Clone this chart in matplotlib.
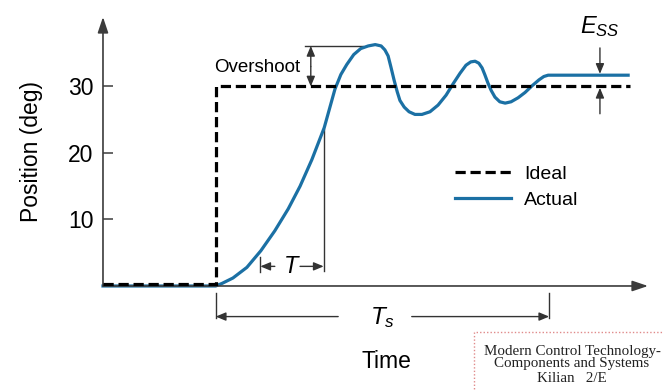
import matplotlib
matplotlib.use("Agg")
import matplotlib.pyplot as plt
from matplotlib.patches import Rectangle

plt.rcParams['font.family'] = ['Liberation Sans', 'DejaVu Sans']
plt.rcParams['mathtext.fontset'] = 'custom'
plt.rcParams['mathtext.it'] = 'Liberation Sans:italic'
plt.rcParams['mathtext.rm'] = 'Liberation Sans'

# ideal step response (time in arbitrary units, position in deg)
ideal_t = [0, 21.0, 21.0, 98.1]
ideal_pos = [0.3, 0.3, 30, 30]

# actual response
actual_t = [0, 21.0, 22.2, 24.2, 26.8, 29.4, 32.0, 34.5, 36.7, 38.9, 41.2,
            43.2, 44.3, 45.4, 46.7, 48.0, 49.4, 50.7, 51.8, 52.5, 53.1,
            53.6, 54.2, 54.8, 55.3, 56.1, 57.0, 58.1, 59.4, 60.9, 62.4,
            63.9, 65.2, 66.5, 67.6, 68.5, 69.3, 70.0, 70.6, 71.1, 71.7,
            72.3, 73.0, 73.9, 74.9, 76.0, 77.3, 78.6, 79.9, 81.2, 82.1,
            82.9, 97.8]
actual_pos = [0, 0, 0.4, 1.2, 2.8, 5.3, 8.3, 11.6, 15.0, 19.0, 23.8,
              29.6, 31.8, 33.3, 34.8, 35.7, 36.1, 36.3, 36.1, 35.5, 34.6,
              33.0, 31.0, 29.2, 27.9, 26.9, 26.2, 25.8, 25.8, 26.2, 27.2,
              28.7, 30.4, 32.0, 33.2, 33.7, 33.8, 33.5, 32.8, 31.8, 30.5,
              29.4, 28.4, 27.7, 27.5, 27.7, 28.3, 29.1, 30.1, 31.0, 31.5,
              31.7, 31.7]

yticks = [10, 20, 30]
step_t = 21.0
settle_t = 83.1

fig = plt.figure(figsize=(6.64, 3.90), dpi=100)
ax = fig.add_axes([0.1551, 0.2667, 0.8208, 0.6897])
ax.set_xlim(0, 101.5)
ax.set_ylim(0, 40.45)
for s in ax.spines.values():
    s.set_visible(False)

axcol = '#3c3c3c'
blue = '#1b70a4'

actual, = ax.plot(actual_t, actual_pos, color=blue, lw=2.3, solid_joinstyle='round',
                  label='Actual', zorder=3, clip_on=False)
ideal, = ax.plot(ideal_t, ideal_pos, color='black', lw=2.3, dashes=(3.2, 1.5),
                 dash_capstyle='butt', dash_joinstyle='miter', label='Ideal',
                 zorder=4, clip_on=False)

# axes with arrowheads
ahead = dict(arrowstyle='-|>,head_length=0.95,head_width=0.32',
             mutation_scale=10, color=axcol, lw=1.2, shrinkA=0, shrinkB=0)
ax.annotate('', xy=(101.5, 0), xytext=(0, 0), arrowprops=ahead, annotation_clip=False)
ax.annotate('', xy=(0, 40.45), xytext=(0, 0), arrowprops=ahead, annotation_clip=False)

ax.set_xticks([])
ax.set_yticks(yticks)
ax.tick_params(axis='y', direction='in', length=7, width=1.1, color=axcol,
               labelsize=16.5, pad=7)
ax.set_ylabel('Position (deg)', fontsize=16.5)
ax.yaxis.set_label_coords(-0.11, 0.5)
ax.text(52.7, -11.4, 'Time', fontsize=16.5, ha='center', va='center')

# annotation helpers
thin = '#333333'
small = dict(arrowstyle='-|>,head_length=0.6,head_width=0.25',
             mutation_scale=10, color=thin, lw=1.0, shrinkA=0, shrinkB=0)

def arrow(x0, y0, x1, y1):
    ax.annotate('', xy=(x1, y1), xytext=(x0, y0), arrowprops=small,
                annotation_clip=False)

def seg(xs, ys):
    ax.plot(xs, ys, color=thin, lw=1.0, clip_on=False)

# overshoot
seg([37.6, 48.4], [36.1, 36.1])
arrow(38.7, 33.0, 38.7, 36.1)
arrow(38.7, 33.0, 38.7, 30.0)
ax.text(36.8, 32.8, 'Overshoot', fontsize=13.5, ha='right', va='center')

# T
seg([41.1, 41.1], [23.6, 2.3])
seg([29.3, 29.3], [4.3, 2.1])
arrow(32.0, 2.95, 29.3, 2.95)
arrow(36.7, 2.95, 41.1, 2.95)
ax.text(35.1, 2.95, 'T', fontsize=17, style='italic', ha='center', va='center')

# Ts
seg([step_t, step_t], [-1.0, -4.8])
seg([settle_t, settle_t], [-1.0, -4.8])
arrow(43.8, -4.6, step_t, -4.6)
arrow(57.5, -4.6, settle_t, -4.6)
ax.text(52.1, -4.7, '$T_s$', fontsize=17.5, ha='center', va='center')

# Ess
arrow(92.55, 35.8, 92.55, 31.9)
arrow(92.55, 25.9, 92.55, 29.8)
ax.text(92.6, 39.0, '$E_{SS}$', fontsize=17, ha='center', va='center')

ax.legend(handles=[ideal, actual], loc='upper left', bbox_to_anchor=(0.646, 0.45),
          frameon=False, fontsize=14, handlelength=2.9, handletextpad=0.65,
          labelspacing=0.45, borderpad=0, borderaxespad=0)

# publisher box
fig.patches.append(Rectangle((474 / 664, -0.01), 0.3, 1 - 332 / 390 + 0.01,
                             transform=fig.transFigure, fill=False,
                             edgecolor='#e08a8a', lw=1.0, linestyle=(0, (1, 1.5))))
for yy, line in zip([351, 364, 378], ['Modern Control Technology-',
                                      'Components and Systems',
                                      'Kilian   2/E']):
    fig.text(572 / 664, 1 - yy / 390, line, family='Liberation Serif',
             fontsize=10.8, color='#222222', ha='center', va='center')

fig.savefig('out.png', dpi=100)
